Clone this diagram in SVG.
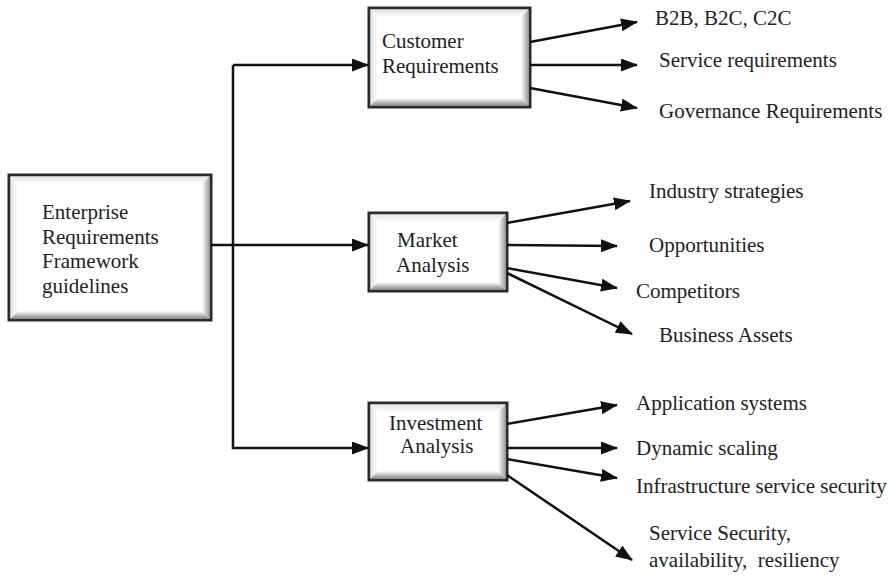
<svg xmlns="http://www.w3.org/2000/svg" width="895" height="582" viewBox="0 0 895 582">
<style>
text{font-family:"Liberation Serif","Times New Roman",serif;font-size:21px;fill:#222}
.box{fill:#fff;stroke:#2b2b2b;stroke-width:3}
.bb{fill:url(#gB)}
.br{fill:url(#gR)}
.bt{fill:url(#gT)}
.bl{fill:url(#gL)}
.c{fill:none;stroke:#111;stroke-width:2.5}
.a{marker-end:url(#ah)}
</style>
<defs>
<linearGradient id="gB" x1="0" y1="0" x2="0" y2="1"><stop offset="0" stop-color="#fff"/><stop offset="1" stop-color="#8c8c8c"/></linearGradient>
<linearGradient id="gR" x1="0" y1="0" x2="1" y2="0"><stop offset="0" stop-color="#fff"/><stop offset="1" stop-color="#9a9a9a"/></linearGradient>
<linearGradient id="gT" x1="0" y1="0" x2="0" y2="1"><stop offset="0" stop-color="#e4e4e4"/><stop offset="1" stop-color="#fff"/></linearGradient>
<linearGradient id="gL" x1="0" y1="0" x2="1" y2="0"><stop offset="0" stop-color="#e4e4e4"/><stop offset="1" stop-color="#fff"/></linearGradient>
<marker id="ah" markerUnits="userSpaceOnUse" markerWidth="18" markerHeight="14" refX="16" refY="6.5" orient="auto"><path d="M0,0 L17,6.5 L0,13 z" fill="#111"/></marker>
</defs>

<g id="enterprise">
<rect class="box" x="9" y="175" width="202" height="145"/>
<polygon class="bt" points="10.5,176.5 209.5,176.5 202,184 18,184"/>
<polygon class="bl" points="10.5,176.5 18,184 18,311 10.5,318.5"/>
<polygon class="bb" points="10.5,318.5 209.5,318.5 202,311 18,311"/>
<polygon class="br" points="209.5,176.5 209.5,318.5 202,311 202,184"/>
<text x="42" y="219">Enterprise</text>
<text x="42" y="244">Requirements</text>
<text x="42" y="268">Framework</text>
<text x="42" y="293">guidelines</text>
</g>

<g id="customer">
<rect class="box" x="369" y="8" width="161" height="99"/>
<polygon class="bt" points="370.5,9.5 528.5,9.5 521,17 378,17"/>
<polygon class="bl" points="370.5,9.5 378,17 378,98 370.5,105.5"/>
<polygon class="bb" points="370.5,105.5 528.5,105.5 521,98 378,98"/>
<polygon class="br" points="528.5,9.5 528.5,105.5 521,98 521,17"/>
<text x="382" y="48">Customer</text>
<text x="382" y="73">Requirements</text>
</g>

<g id="market">
<rect class="box" x="369" y="213" width="138" height="78"/>
<polygon class="bt" points="370.5,214.5 505.5,214.5 498,222 378,222"/>
<polygon class="bl" points="370.5,214.5 378,222 378,282 370.5,289.5"/>
<polygon class="bb" points="370.5,289.5 505.5,289.5 498,282 378,282"/>
<polygon class="br" points="505.5,214.5 505.5,289.5 498,282 498,222"/>
<text x="397" y="247">Market</text>
<text x="396" y="272">Analysis</text>
</g>

<g id="investment">
<rect class="box" x="369" y="403" width="138" height="77"/>
<polygon class="bt" points="370.5,404.5 505.5,404.5 498,412 378,412"/>
<polygon class="bl" points="370.5,404.5 378,412 378,471 370.5,478.5"/>
<polygon class="bb" points="370.5,478.5 505.5,478.5 498,471 378,471"/>
<polygon class="br" points="505.5,404.5 505.5,478.5 498,471 498,412"/>
<text x="389" y="430">Investment</text>
<text x="400" y="453">Analysis</text>
</g>

<g id="connectors">
<path class="c a" d="M211,245 H368"/>
<path class="c a" d="M233,65 H368"/>
<path class="c a" d="M233,65 V448 H368"/>
<path class="c a" d="M530,42 L637,22"/>
<path class="c a" d="M530,65 L637,65"/>
<path class="c a" d="M530,88 L637,108"/>
<path class="c a" d="M507,223 L630,201"/>
<path class="c a" d="M507,245 L617,246"/>
<path class="c a" d="M507,268 L617,288"/>
<path class="c a" d="M507,273 L632,334"/>
<path class="c a" d="M507,424 L617,405"/>
<path class="c a" d="M507,448 L617,448"/>
<path class="c a" d="M507,459 L617,478"/>
<path class="c a" d="M507,475 L632,560"/>
</g>

<g id="labels">
<text x="655" y="25">B2B, B2C, C2C</text>
<text x="659" y="67">Service requirements</text>
<text x="659" y="118">Governance Requirements</text>
<text x="649" y="198">Industry strategies</text>
<text x="649" y="252">Opportunities</text>
<text x="636" y="298">Competitors</text>
<text x="659" y="342">Business Assets</text>
<text x="636" y="410">Application systems</text>
<text x="636" y="455">Dynamic scaling</text>
<text x="636" y="493">Infrastructure service security</text>
<text x="649" y="540">Service Security,</text>
<text x="649" y="567" xml:space="preserve">availability,  resiliency</text>
</g>
</svg>
